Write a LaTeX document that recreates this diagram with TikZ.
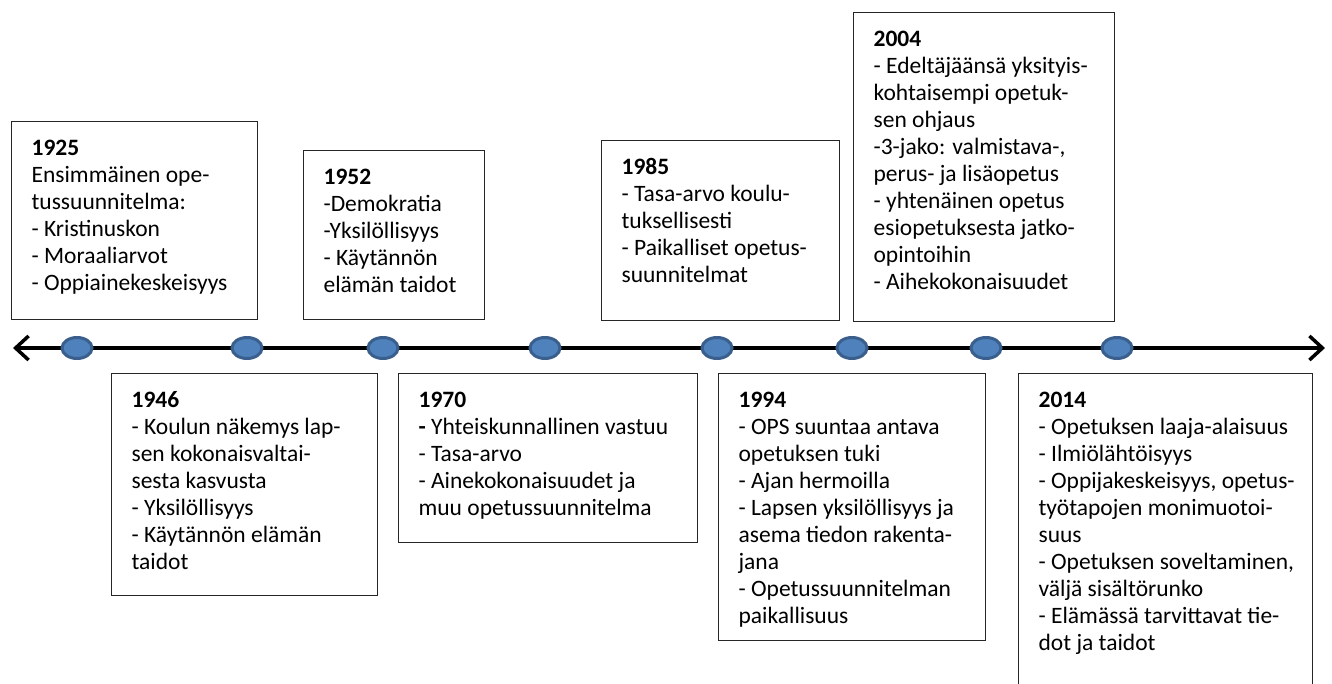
\documentclass[tikz,border=0pt]{standalone}
\usepackage{fontspec}
\setmainfont{Carlito}
\usetikzlibrary{arrows.meta,shapes.geometric}
\definecolor{dotfill}{HTML}{4F81BD}
\definecolor{dotline}{HTML}{3A5F8C}
\newcommand{\yearfont}{\fontsize{23.5}{27}\selectfont}
\newcommand{\yeartext}[3]{\parbox[t][#2][t]{#1}{\raggedright\leftskip=20pt #3}}
\tikzset{
  yearbox/.style={draw=black!85, line width=1.2pt, anchor=north west, inner xsep=0pt, inner ysep=18pt, font=\yearfont},
  yeardot/.style={ellipse, draw=dotline, fill=dotfill, line width=3pt, minimum width=30pt, minimum height=21pt, inner sep=0pt},
}

\begin{document}
\begin{tikzpicture}[x=1pt,y=-1pt]
  \useasboundingbox (0,0) rectangle (1332,684);
  % timeline, arrow at both ends
  \coordinate (tstart) at (13,348);
  \coordinate (tend) at (1325,348);
  \draw[line width=3.5pt, {Straight Barb[length=13pt,width=24pt]}-{Straight Barb[length=13pt,width=24pt]}] (tstart) -- (tend);
  % dots on the line
  \node[yeardot] (d1) at (77,348) {};
  \node[yeardot] (d2) at (247,348) {};
  \node[yeardot] (d3) at (383,348) {};
  \node[yeardot] (d4) at (545,348) {};
  \node[yeardot] (d5) at (717,348) {};
  \node[yeardot] (d6) at (852,348) {};
  \node[yeardot] (d7) at (986,348) {};
  \node[yeardot] (d8) at (1117,348) {};
  % boxes above the line
  \node[yearbox] (b1925) at (11,121) {\yeartext{246pt}{162pt}{\textbf{1925}\\Ensimmäinen ope-\\tussuunnitelma:\\- Kristinuskon\\- Moraaliarvot\\- Oppiainekeskeisyys}};
  \node[yearbox] (b1952) at (303,150) {\yeartext{181pt}{133pt}{\textbf{1952}\\-Demokratia\\-Yksilöllisyys\\- Käytännön\\elämän taidot}};
  \node[yearbox] (b1985) at (601,140) {\yeartext{238pt}{144pt}{\textbf{1985}\\- Tasa-arvo koulu-\\tuksellisesti\\- Paikalliset opetus-\\suunnitelmat}};
  \node[yearbox] (b2004) at (853,12) {\yeartext{261pt}{273pt}{\textbf{2004}\\- Edeltäjäänsä yksityis-\\kohtaisempi opetuk-\\sen ohjaus\\-3-jako: valmistava-,\\perus- ja lisäopetus\\- yhtenäinen opetus\\esiopetuksesta jatko-\\opintoihin\\- Aihekokonaisuudet}};
  % boxes below the line
  \node[yearbox] (b1946) at (111,373) {\yeartext{266pt}{186pt}{\textbf{1946}\\- Koulun näkemys lap-\\sen kokonaisvaltai-\\sesta kasvusta\\- Yksilöllisyys\\- Käytännön elämän\\taidot}};
  \node[yearbox] (b1970) at (398,373) {\yeartext{299pt}{133pt}{\textbf{1970}\\\textbf{-} Yhteiskunnallinen vastuu\\- Tasa-arvo\\- Ainekokonaisuudet ja\\muu opetussuunnitelma}};
  \node[yearbox] (b1994) at (718,373) {\yeartext{267pt}{231pt}{\textbf{1994}\\- OPS suuntaa antava\\opetuksen tuki\\- Ajan hermoilla\\- Lapsen yksilöllisyys ja\\asema tiedon rakenta-\\jana\\- Opetussuunnitelman\\paikallisuus}};
  \node[yearbox] (b2014) at (1018,373) {\yeartext{294pt}{304pt}{\textbf{2014}\\- Opetuksen laaja-alaisuus\\- Ilmiölähtöisyys\\- Oppijakeskeisyys, opetus-\\työtapojen monimuotoi-\\suus\\- Opetuksen soveltaminen,\\väljä sisältörunko\\- Elämässä tarvittavat tie-\\dot ja taidot}};
\end{tikzpicture}
\end{document}
